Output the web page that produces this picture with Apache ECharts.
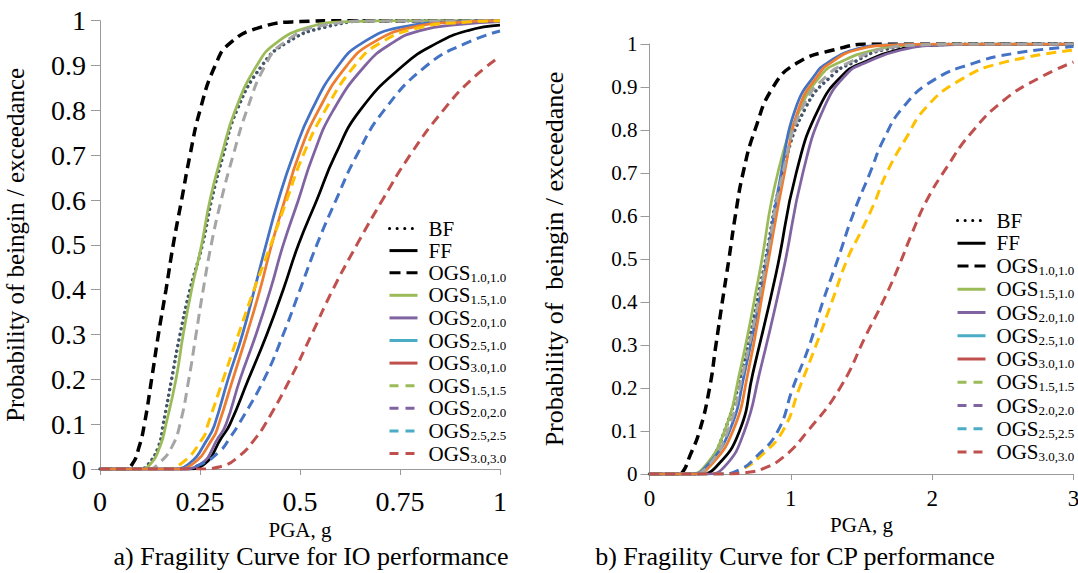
<!DOCTYPE html>
<html><head><meta charset="utf-8">
<script src="https://cdn.jsdelivr.net/npm/echarts@6/dist/echarts.min.js"></script>
<style>html,body{margin:0;padding:0;background:#fff}#c{width:1078px;height:573px}</style>
</head><body><div id="c"></div>
<script>
// ---------- DATA ----------
const seriesNames = ['BF','FF','OGS1.0,1.0','OGS1.5,1.0','OGS2.0,1.0','OGS2.5,1.0','OGS3.0,1.0','OGS1.5,1.5','OGS2.0,2.0','OGS2.5,2.5','OGS3.0,3.0'];
const leftXTicks = [0, 0.25, 0.5, 0.75, 1];
const rightXTicks = [0, 1, 2, 3];
const yTicks = [0,0.1,0.2,0.3,0.4,0.5,0.6,0.7,0.8,0.9,1];
const captionA = 'a) Fragility Curve for IO performance';
const captionB = 'b) Fragility Curve for CP performance';
const xTitle = 'PGA, g';
const yTitleA = 'Probability of beingin / exceedance';
const yTitleB = 'Probability of  beingin / exceedance';

// a) IO performance  [PGA (g), probability]
const ioBF     = [[0,0],[0.1,0],[0.12,0.01],[0.146,0.05],[0.158,0.1],[0.179,0.2],[0.2,0.3],[0.225,0.4],[0.256,0.5],[0.279,0.6],[0.308,0.7],[0.342,0.8],[0.405,0.9],[0.465,0.95],[0.56,0.985],[0.7,1],[1,1]];
const ioFF     = [[0,0],[0.22,0],[0.26,0.01],[0.304,0.07],[0.325,0.1],[0.371,0.2],[0.417,0.3],[0.458,0.4],[0.496,0.5],[0.542,0.6],[0.588,0.7],[0.65,0.8],[0.758,0.9],[0.842,0.95],[0.92,0.978],[1,0.99]];
const io10_10  = [[0,0],[0.06,0],[0.08,0.01],[0.098,0.05],[0.111,0.1],[0.129,0.2],[0.146,0.3],[0.165,0.4],[0.183,0.5],[0.204,0.6],[0.225,0.7],[0.25,0.8],[0.288,0.9],[0.325,0.95],[0.4,0.985],[0.5,0.998],[0.6,1],[1,1]];
const io15_10  = [[0,0],[0.1,0],[0.125,0.01],[0.15,0.05],[0.165,0.1],[0.19,0.2],[0.208,0.3],[0.229,0.4],[0.254,0.5],[0.275,0.6],[0.304,0.7],[0.338,0.8],[0.392,0.9],[0.44,0.95],[0.52,0.985],[0.62,0.998],[0.75,1],[1,1]];
const io20_10  = [[0,0],[0.2,0],[0.25,0.01],[0.296,0.07],[0.315,0.1],[0.35,0.2],[0.39,0.3],[0.426,0.4],[0.458,0.5],[0.496,0.6],[0.533,0.7],[0.583,0.8],[0.663,0.9],[0.73,0.95],[0.8,0.978],[0.9,0.992],[1,0.998]];
const io25_10  = [[0,0],[0.18,0],[0.22,0.01],[0.271,0.07],[0.287,0.1],[0.32,0.2],[0.356,0.3],[0.386,0.4],[0.415,0.5],[0.446,0.6],[0.483,0.7],[0.529,0.8],[0.596,0.9],[0.655,0.95],[0.75,0.985],[0.9,0.998],[1,1]];
const io30_10  = [[0,0],[0.19,0],[0.23,0.01],[0.283,0.07],[0.297,0.1],[0.332,0.2],[0.367,0.3],[0.4,0.4],[0.429,0.5],[0.462,0.6],[0.497,0.7],[0.546,0.8],[0.617,0.9],[0.68,0.95],[0.78,0.985],[0.92,0.998],[1,1]];
const io15_15  = [[0,0],[0.12,0],[0.15,0.015],[0.18,0.05],[0.2,0.1],[0.222,0.2],[0.24,0.3],[0.258,0.4],[0.278,0.5],[0.303,0.6],[0.333,0.7],[0.367,0.8],[0.413,0.9],[0.458,0.95],[0.56,0.99],[0.7,1],[1,1]];
const io20_20  = [[0,0],[0.16,0],[0.2,0.01],[0.258,0.07],[0.27,0.1],[0.308,0.2],[0.346,0.3],[0.385,0.4],[0.427,0.5],[0.467,0.6],[0.508,0.7],[0.563,0.8],[0.637,0.9],[0.7,0.95],[0.8,0.985],[0.92,0.997],[1,1]];
const io25_25  = [[0,0],[0.2,0],[0.25,0.01],[0.3,0.04],[0.325,0.07],[0.347,0.1],[0.41,0.2],[0.458,0.3],[0.5,0.4],[0.542,0.5],[0.59,0.6],[0.642,0.7],[0.71,0.8],[0.817,0.9],[0.915,0.95],[1,0.977]];
const io30_30  = [[0,0],[0.25,0],[0.3,0.005],[0.35,0.03],[0.39,0.07],[0.413,0.1],[0.475,0.2],[0.529,0.3],[0.582,0.4],[0.642,0.5],[0.706,0.6],[0.775,0.7],[0.858,0.8],[0.93,0.87],[1,0.92]];

// b) CP performance  [PGA (g), probability]
const cpBF     = [[0,0],[0.3,0],[0.4,0.017],[0.531,0.1],[0.649,0.234],[0.802,0.467],[0.943,0.7],[1.108,0.854],[1.309,0.932],[1.43,0.955],[1.65,0.986],[2.0,0.998],[2.3,1],[3,1]];
const cpFF     = [[0,0],[0.35,0],[0.472,0.017],[0.637,0.1],[0.731,0.234],[0.896,0.467],[1.038,0.7],[1.203,0.854],[1.38,0.932],[1.5,0.955],[1.75,0.986],[2.05,0.998],[2.35,1],[3,1]];
const cp10_10  = [[0,0],[0.2,0],[0.236,0.005],[0.283,0.04],[0.354,0.1],[0.425,0.2],[0.47,0.3],[0.515,0.4],[0.562,0.5],[0.607,0.6],[0.662,0.7],[0.746,0.8],[0.875,0.9],[1.04,0.955],[1.3,0.986],[1.58,1],[3,1]];
const cp15_10  = [[0,0],[0.28,0],[0.389,0.017],[0.531,0.1],[0.637,0.234],[0.778,0.467],[0.908,0.7],[1.073,0.854],[1.226,0.932],[1.33,0.955],[1.59,0.986],[1.9,0.998],[2.2,1],[3,1]];
const cp20_10  = [[0,0],[0.4,0],[0.531,0.017],[0.672,0.1],[0.778,0.234],[0.943,0.467],[1.085,0.7],[1.238,0.854],[1.4,0.932],[1.52,0.955],[1.78,0.986],[2.1,0.998],[2.4,1],[3,1]];
const cp25_10  = [[0,0],[0.3,0],[0.4,0.017],[0.566,0.1],[0.672,0.234],[0.814,0.467],[0.932,0.7],[1.038,0.854],[1.179,0.932],[1.254,0.955],[1.44,0.986],[1.7,0.998],[2.0,1],[3,1]];
const cp30_10  = [[0,0],[0.32,0],[0.425,0.017],[0.59,0.1],[0.696,0.234],[0.825,0.467],[0.955,0.7],[1.061,0.854],[1.203,0.932],[1.277,0.955],[1.46,0.986],[1.75,0.998],[2.05,1],[3,1]];
const cp15_15  = [[0,0],[0.3,0],[0.41,0.017],[0.554,0.1],[0.66,0.234],[0.81,0.467],[0.943,0.7],[1.085,0.854],[1.274,0.932],[1.4,0.955],[1.62,0.986],[1.95,0.998],[2.25,1],[3,1]];
const cp20_20  = [[0,0],[0.55,0],[0.65,0.01],[0.78,0.04],[0.943,0.1],[1.061,0.2],[1.179,0.3],[1.29,0.4],[1.4,0.5],[1.49,0.56],[1.584,0.625],[1.678,0.7],[1.808,0.777],[1.961,0.854],[2.197,0.916],[2.48,0.955],[3,0.986]];
const cp25_25  = [[0,0],[0.5,0],[0.637,0.01],[0.755,0.04],[0.908,0.1],[1.014,0.2],[1.132,0.3],[1.226,0.4],[1.333,0.5],[1.443,0.606],[1.56,0.7],[1.655,0.777],[1.797,0.854],[2.01,0.916],[2.29,0.955],[2.576,0.978],[3,0.994]];
const cp30_30  = [[0,0],[0.55,0],[0.7,0.004],[0.8,0.012],[0.95,0.04],[1.12,0.1],[1.348,0.2],[1.537,0.326],[1.655,0.403],[1.761,0.481],[1.855,0.558],[1.961,0.636],[2.103,0.713],[2.268,0.79],[2.503,0.868],[2.763,0.922],[3,0.958]];

const ioData = [ioBF, ioFF, io10_10, io15_10, io20_10, io25_10, io30_10, io15_15, io20_20, io25_25, io30_30];
const cpData = [cpBF, cpFF, cp10_10, cp15_10, cp20_10, cp25_10, cp30_10, cp15_15, cp20_20, cp25_25, cp30_30];

// ---------- STYLES ----------
const FONT = 'Liberation Serif, Times New Roman, serif';
const DOT = [0.1, 5.5], DASH = [10, 6];
const plotStyle = [
  {color:'#44546A', width:3.5, type:DOT, cap:'round'},
  {color:'#000000', width:2.75, type:'solid'},
  {color:'#000000', width:3.5, type:DASH},
  {color:'#9BBB59', width:2.75, type:'solid'},
  {color:'#8064A2', width:2.75, type:'solid'},
  {color:'#4472C4', width:2.75, type:'solid'},
  {color:'#ED7D31', width:2.75, type:'solid'},
  {color:'#A5A5A5', width:3, type:DASH},
  {color:'#FFC000', width:3, type:DASH},
  {color:'#4472C4', width:3, type:DASH},
  {color:'#C0504D', width:3, type:DASH}
];
const legendStyle = [
  {color:'#000000', width:3, type:[0.1,7.5], cap:'round'},
  {color:'#000000', width:3, type:'solid'},
  {color:'#000000', width:3, type:[11,6]},
  {color:'#9BBB59', width:3, type:'solid'},
  {color:'#8064A2', width:3, type:'solid'},
  {color:'#4BACC6', width:3, type:'solid'},
  {color:'#C0504D', width:3, type:'solid'},
  {color:'#9BBB59', width:3, type:[9,7]},
  {color:'#8064A2', width:3, type:[9,7]},
  {color:'#4BACC6', width:3, type:[9,7]},
  {color:'#C0504D', width:3, type:[9,7]}
];

function makeSeries(dataList, axisIdx) {
  return dataList.map((d, i) => ({
    type:'line', name: seriesNames[i], data: d,
    xAxisIndex: axisIdx, yAxisIndex: axisIdx,
    symbol:'none', showSymbol:false, smooth:0.5,
    silent:true, animation:false, z: 2 + i * 0.01,
    lineStyle:{color: plotStyle[i].color, width: plotStyle[i].width, type: plotStyle[i].type, cap: plotStyle[i].cap || 'butt'},
    itemStyle:{color: plotStyle[i].color}
  }));
}

const legendFormatter = name => name.indexOf('OGS') === 0
  ? '{m|OGS}{s|' + name.slice(3) + '}'
  : '{m|' + name + '}';
const legendRich = {
  m:{fontFamily:FONT, fontSize:21, lineHeight:22, color:'#000', padding:[0,0,0,6]},
  s:{fontFamily:FONT, fontSize:13, lineHeight:8, color:'#000', verticalAlign:'bottom'}
};
function makeLegend(left, top, gap) {
  return {
    orient:'vertical', left, top, itemWidth:28, itemHeight:14, itemGap:gap,
    selectedMode:false, formatter: legendFormatter,
    textStyle:{rich: legendRich, color:'#000', fontFamily:FONT},
    itemStyle:{opacity:0, borderWidth:0},
    data: seriesNames.map((n, i) => ({
      name:n,
      lineStyle:{color:legendStyle[i].color, width:legendStyle[i].width, type:legendStyle[i].type, cap:legendStyle[i].cap || 'butt', opacity:1},
      itemStyle:{color:'rgba(0,0,0,0)', borderColor:'rgba(0,0,0,0)', borderWidth:0, opacity:0}
    }))
  };
}

const fmtTick = v => '{t|' + String(Math.round(v * 100) / 100) + '}';
const richT = size => ({t:{fontFamily:FONT, fontSize:size, color:'#000'}});
const axisGray = '#9A9A9A';
function xAxisCfg(grid, ticks, fontSize, margin) {
  return {
    type:'value', gridIndex:grid, min:ticks[0], max:ticks[ticks.length-1], interval:ticks[1]-ticks[0],
    name:'{t|' + xTitle + '}', nameLocation:'middle', nameGap:39,
    nameTextStyle:{fontFamily:FONT, fontSize:21, color:'#000', rich: richT(21)},
    axisLine:{show:true, onZero:false, lineStyle:{color:axisGray, width:1}},
    axisTick:{show:true, inside:false, length:6, lineStyle:{color:axisGray}},
    splitLine:{show:false},
    axisLabel:{fontFamily:FONT, fontSize, color:'#000', margin, formatter: fmtTick, rich: richT(fontSize)}
  };
}
function yAxisCfg(grid, title, fontSize, margin, nameGap, nameSize) {
  return {
    type:'value', gridIndex:grid, min:yTicks[0], max:yTicks[yTicks.length-1], interval:yTicks[1]-yTicks[0],
    name:'{t|' + title + '}', nameLocation:'middle', nameRotate:90, nameGap,
    nameTextStyle:{fontFamily:FONT, fontSize:nameSize, color:'#000', rich: richT(nameSize)},
    axisLine:{show:true, lineStyle:{color:axisGray, width:1}},
    axisTick:{show:true, inside:false, length:9, lineStyle:{color:axisGray}},
    splitLine:{show:false},
    axisLabel:{fontFamily:FONT, fontSize, color:'#000', margin, formatter: fmtTick, rich: richT(fontSize)}
  };
}

const chart = echarts.init(document.getElementById('c'), null, {renderer:'svg'});
chart.setOption({
  animation:false,
  backgroundColor:'#ffffff',
  textStyle:{fontFamily:FONT},
  grid:[
    {left:100, top:20.7, width:400, height:448.3, containLabel:false, outerBoundsMode:'none'},
    {left:649.5, top:44, width:424, height:430, containLabel:false, outerBoundsMode:'none'}
  ],
  xAxis:[ xAxisCfg(0, leftXTicks, 28, 18), xAxisCfg(1, rightXTicks, 23, 13) ],
  yAxis:[ yAxisCfg(0, yTitleA, 28, 14, 72, 25), yAxisCfg(1, yTitleB, 21, 12, 82, 26) ],
  legend:[ makeLegend(383, 213, 1.1), makeLegend(951, 205, 1.75) ],
  graphic:[
    {type:'text', x:311, y:556, silent:true, style:{text:captionA, fontFamily:FONT, fontSize:26, fill:'#000', align:'center', verticalAlign:'middle'}},
    {type:'text', x:795, y:556, silent:true, style:{text:captionB, fontFamily:FONT, fontSize:26, fill:'#000', align:'center', verticalAlign:'middle'}}
  ],
  series: makeSeries(ioData, 0).concat(makeSeries(cpData, 1))
});
</script>
</body></html>
